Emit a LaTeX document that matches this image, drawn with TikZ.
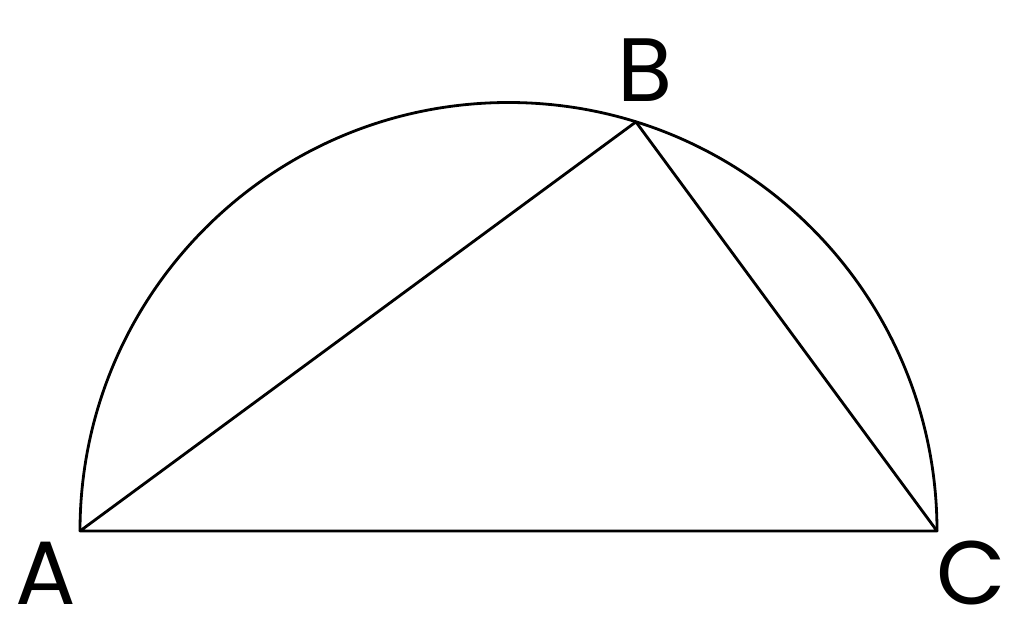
\documentclass[tikz,border=0pt]{standalone}
\usepackage{fontspec}
\setmainfont{Poppins}
\usetikzlibrary{calc}
\begin{document}
\begin{tikzpicture}[x=1pt,y=1pt,
  edge/.style={line width=2.8pt,line join=round},
  lbl/.style={font=\fontsize{90}{90}\selectfont,inner sep=0pt,anchor=base}]
\useasboundingbox (0,0) rectangle (1024,641);
\coordinate (O) at (508.5,110);
\coordinate (A) at (80,110);
\coordinate (C) at (937,110);
\coordinate (B) at ($(O)+(72.7:428.5)$);
\draw[edge] (A) arc[start angle=180,end angle=0,radius=428.5];
\draw[edge] (A) -- (B) -- (C) -- cycle;
\node[lbl] (la) at (46,37) {A};
\node[lbl] (lb) at (645,539) {B};
\node[lbl] (lc) at (971,37) {C};
\end{tikzpicture}
\end{document}
